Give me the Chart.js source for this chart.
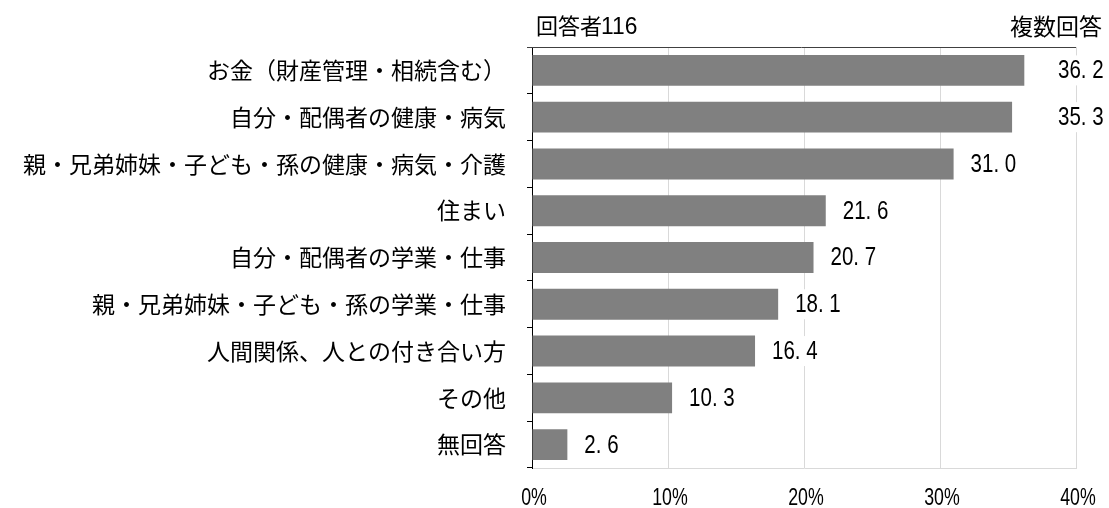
<!DOCTYPE html>
<html lang="ja">
<head>
<meta charset="utf-8">
<script src="https://cdn.jsdelivr.net/npm/chart.js@4/dist/chart.umd.min.js"></script>
<style>
  html, body { margin: 0; padding: 0; background: #fff; }
  #wrap { width: 1109px; height: 508px; position: relative; }
</style>
</head>
<body>
<div id="wrap"><canvas id="c"></canvas></div>
<script>
// 悩み・不安の内容（複数回答）
const categories = [
  'お金（財産管理・相続含む）',
  '自分・配偶者の健康・病気',
  '親・兄弟姉妹・子ども・孫の健康・病気・介護',
  '住まい',
  '自分・配偶者の学業・仕事',
  '親・兄弟姉妹・子ども・孫の学業・仕事',
  '人間関係、人との付き合い方',
  'その他',
  '無回答'
];
const percentValues = [36.2, 35.3, 31.0, 21.6, 20.7, 18.1, 16.4, 10.3, 2.6];
const xTicks = [0, 10, 20, 30, 40];
const headerLeftWord = '回答者';
const headerLeftCount = '116';
const headerRight = '複数回答';

const NUM_FONT = "'Liberation Sans', 'Noto Sans', sans-serif";
const JP_FONT = "'Noto Sans CJK JP', sans-serif";

// 横方向に詰めた数字を描く
function drawNarrow(ctx, text, x, y, align, size, sx) {
  ctx.save();
  ctx.font = size + 'px ' + NUM_FONT;
  ctx.textAlign = align;
  ctx.textBaseline = 'middle';
  ctx.translate(x, y);
  ctx.scale(sx, 1);
  ctx.fillText(text, 0, 0);
  ctx.restore();
}
function narrowWidth(ctx, text, size, sx) {
  ctx.save();
  ctx.font = size + 'px ' + NUM_FONT;
  const w = ctx.measureText(text).width * sx;
  ctx.restore();
  return w;
}

// 値ラベル（棒の右側、白地で目盛線を隠す）
const valueLabels = {
  id: 'valueLabels',
  afterDatasetsDraw(chart) {
    const ctx = chart.ctx;
    const area = chart.chartArea;
    const meta = chart.getDatasetMeta(0);
    meta.data.forEach((bar, i) => {
      const text = percentValues[i].toFixed(1).replace('.', '. ');
      const w = narrowWidth(ctx, text, 25, 0.82);
      let x = bar.x + 17;
      if (x + w + 10 > area.right) x = area.right - 18;
      ctx.save();
      ctx.fillStyle = '#fff';
      ctx.fillRect(x - 2, bar.y - 15, w + 4, 30);
      ctx.fillStyle = '#000';
      drawNarrow(ctx, text, x, bar.y + 1, 'left', 25, 0.82);
      ctx.restore();
    });
  }
};

// 横軸の目盛ラベル、上部の見出しと枠線
const headerAndFrame = {
  id: 'headerAndFrame',
  afterDraw(chart) {
    const ctx = chart.ctx;
    const a = chart.chartArea;
    const xs = chart.scales.x;
    ctx.save();
    ctx.strokeStyle = '#404040';
    ctx.lineWidth = 1;
    ctx.beginPath();
    ctx.moveTo(a.left - 5, a.top + 0.5);
    ctx.lineTo(a.right, a.top + 0.5);
    ctx.stroke();
    ctx.fillStyle = '#000';

    xTicks.forEach(v => {
      drawNarrow(ctx, v + '%', xs.getPixelForValue(v) + 2, a.bottom + 30, 'center', 24, 0.74);
    });

    ctx.font = '22px ' + JP_FONT;
    ctx.textBaseline = 'middle';
    ctx.textAlign = 'left';
    ctx.fillText(headerLeftWord, a.left + 4, 26);
    const ww = ctx.measureText(headerLeftWord).width;
    drawNarrow(ctx, headerLeftCount, a.left + 3 + ww, 27, 'left', 24, 0.95);

    ctx.font = '23px ' + JP_FONT;
    ctx.textAlign = 'right';
    ctx.fillText(headerRight, chart.width - 7, 26);
    ctx.restore();
  }
};

new Chart(document.getElementById('c'), {
  type: 'bar',
  data: {
    labels: categories,
    datasets: [{
      data: percentValues,
      backgroundColor: '#808080',
      borderWidth: 0,
      categoryPercentage: 1.0,
      barPercentage: 0.66
    }]
  },
  options: {
    indexAxis: 'y',
    responsive: true,
    maintainAspectRatio: false,
    animation: false,
    layout: { padding: { top: 47, right: 33, left: 0, bottom: 40 } },
    plugins: {
      legend: { display: false },
      tooltip: { enabled: false },
      title: { display: false }
    },
    scales: {
      x: {
        type: 'linear',
        min: xTicks[0],
        max: xTicks[xTicks.length - 1],
        afterBuildTicks(axis) { axis.ticks = xTicks.map(v => ({ value: v })); },
        grid: { color: '#d9d9d9', lineWidth: 1, drawTicks: false },
        border: { display: true, color: '#d9d9d9' },
        ticks: { display: false }
      },
      y: {
        afterFit(axis) { axis.width = 532; },
        grid: {
          offset: true,
          drawOnChartArea: false,
          drawTicks: true,
          tickLength: 5,
          color: '#000'
        },
        border: { display: true, color: '#000', width: 1 },
        ticks: {
          color: '#000',
          padding: 21,
          font: { family: JP_FONT, size: 23 }
        }
      }
    }
  },
  plugins: [valueLabels, headerAndFrame]
});
</script>
</body>
</html>
